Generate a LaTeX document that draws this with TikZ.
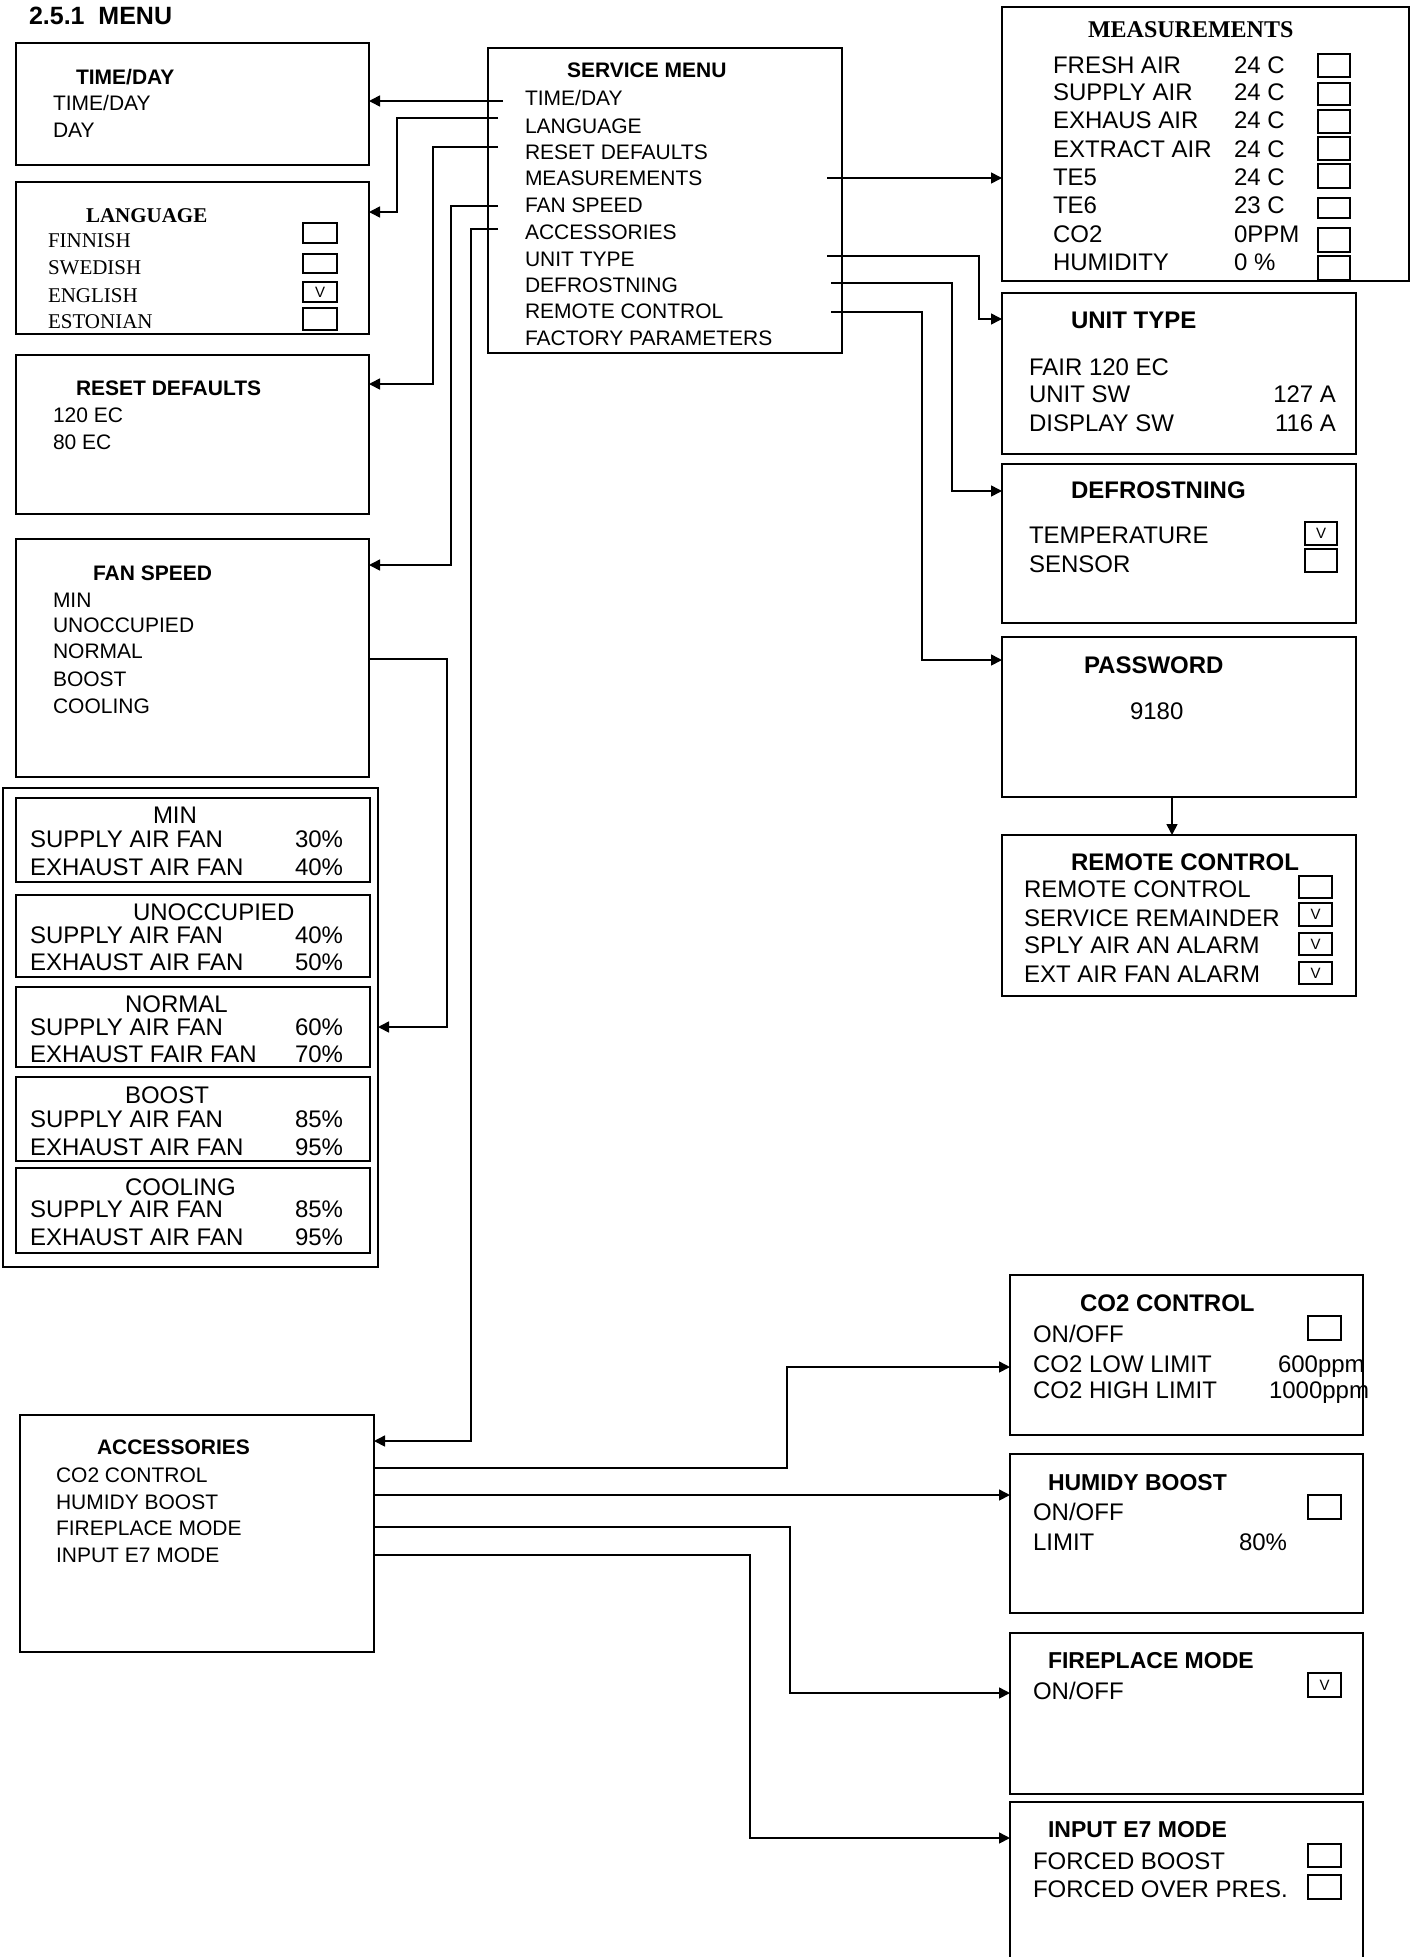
\documentclass[tikz,border=0pt]{standalone}
\usepackage{fontspec}
\setmainfont{Liberation Sans}
\newfontfamily\tnr{Liberation Serif}
\usetikzlibrary{arrows.meta}
\newcommand\Bx[5]{\node[box, minimum width=#4pt, minimum height=#5pt] (#1) at (#2,#3) {};}
\newcommand\Cb[6]{\node[cbox, minimum width=#4pt, minimum height=#5pt] (#1) at (#2,#3) {#6};}
\begin{document}
\begin{tikzpicture}[x=1pt,y=-1pt,
  box/.style={draw, line width=1.6pt, anchor=north west, inner sep=0pt, outer sep=0pt},
  cbox/.style={draw, line width=1.4pt, anchor=north west, inner sep=0pt, outer sep=0pt, font=\fontsize{15}{15}\selectfont},
  tx/.style={anchor=base west, inner sep=0pt, outer sep=0pt},
  txr/.style={anchor=base east, inner sep=0pt, outer sep=0pt},
  s21/.style={font=\fontsize{21}{21}\selectfont},
  b21/.style={font=\bfseries\fontsize{21}{21}\selectfont},
  s24/.style={font=\fontsize{24}{24}\selectfont},
  b24/.style={font=\bfseries\fontsize{24}{24}\selectfont},
  b23/.style={font=\bfseries\fontsize{23}{23}\selectfont},
  r21/.style={font=\tnr\fontsize{21}{21}\selectfont},
  rb21/.style={font=\tnr\bfseries\fontsize{21}{21}\selectfont},
  rb24/.style={font=\tnr\bfseries\fontsize{24}{24}\selectfont},
  ln/.style={line width=1.6pt},
  arr/.style={line width=1.6pt, -{Triangle[length=11pt,width=11pt]}}
]
\clip (0,0) rectangle (1416,1957);
\fill[white] (0,0) rectangle (1416,1957);

% title
\node[tx,font=\bfseries\fontsize{25}{25}\selectfont] (title) at (29,24) {2.5.1\ \ MENU};

% ---------- boxes ----------
\Bx{timeday}{16}{43}{353}{122}
\Bx{language}{16}{182}{353}{152}
\Bx{reset}{16}{355}{353}{159}
\Bx{fanspeed}{16}{539}{353}{238}
\Bx{fanouter}{3}{788}{375}{479}
\Bx{tmin}{16}{798}{354}{84}
\Bx{tunocc}{16}{895}{354}{82}
\Bx{tnormal}{16}{987}{354}{80}
\Bx{tboost}{16}{1077}{354}{84}
\Bx{tcool}{16}{1168}{354}{85}
\Bx{acc}{20}{1415}{354}{237}
\Bx{service}{488}{48}{354}{305}
\Bx{meas}{1002}{7}{407}{274}
\Bx{unittype}{1002}{293}{354}{161}
\Bx{defrost}{1002}{464}{354}{159}
\Bx{password}{1002}{637}{354}{160}
\Bx{remote}{1002}{835}{354}{161}
\Bx{co2}{1010}{1275}{353}{160}
\Bx{humid}{1010}{1454}{353}{159}
\Bx{fire}{1010}{1633}{353}{161}
\Bx{einput}{1010}{1802}{353}{180}

% ---------- TIME/DAY ----------
\node[tx,b21] (tdh) at (76,84) {TIME/DAY};
\node[tx,s21] (td1) at (53,110) {TIME/DAY};
\node[tx,s21] (td2) at (53,137) {DAY};

% ---------- LANGUAGE ----------
\node[tx,rb21] (lgh) at (86,222) {LANGUAGE};
\node[tx,r21] (lg1) at (48,247) {FINNISH};
\node[tx,r21] (lg2) at (48,274) {SWEDISH};
\node[tx,r21] (lg3) at (48,302) {ENGLISH};
\node[tx,r21] (lg4) at (48,328) {ESTONIAN};
\Cb{lc1}{303}{223}{34}{20}{}
\Cb{lc2}{303}{254}{34}{19}{}
\Cb{lc3}{303}{282}{34}{20}{V}
\Cb{lc4}{303}{308}{34}{22}{}

% ---------- RESET DEFAULTS ----------
\node[tx,b21] (rdh) at (76,395) {RESET DEFAULTS};
\node[tx,s21] (rd1) at (53,422) {120 EC};
\node[tx,s21] (rd2) at (53,449) {80 EC};

% ---------- FAN SPEED ----------
\node[tx,b21] (fsh) at (93,580) {FAN SPEED};
\node[tx,s21] (fs1) at (53,607) {MIN};
\node[tx,s21] (fs2) at (53,632) {UNOCCUPIED};
\node[tx,s21] (fs3) at (53,658) {NORMAL};
\node[tx,s21] (fs4) at (53,686) {BOOST};
\node[tx,s21] (fs5) at (53,713) {COOLING};

% ---------- fan speed tables ----------
\node[tx,s24] (mnh) at (153,823) {MIN};
\node[tx,s24] (mn1) at (30,847) {SUPPLY AIR FAN};
\node[tx,s24] (mn1v) at (295,847) {30\%};
\node[tx,s24] (mn2) at (30,875) {EXHAUST AIR FAN};
\node[tx,s24] (mn2v) at (295,875) {40\%};

\node[tx,s24] (unh) at (133,920) {UNOCCUPIED};
\node[tx,s24] (un1) at (30,943) {SUPPLY AIR FAN};
\node[tx,s24] (un1v) at (295,943) {40\%};
\node[tx,s24] (un2) at (30,970) {EXHAUST AIR FAN};
\node[tx,s24] (un2v) at (295,970) {50\%};

\node[tx,s24] (nmh) at (125,1012) {NORMAL};
\node[tx,s24] (nm1) at (30,1035) {SUPPLY AIR FAN};
\node[tx,s24] (nm1v) at (295,1035) {60\%};
\node[tx,s24] (nm2) at (30,1062) {EXHAUST FAIR FAN};
\node[tx,s24] (nm2v) at (295,1062) {70\%};

\node[tx,s24] (bsh) at (125,1103) {BOOST};
\node[tx,s24] (bs1) at (30,1127) {SUPPLY AIR FAN};
\node[tx,s24] (bs1v) at (295,1127) {85\%};
\node[tx,s24] (bs2) at (30,1155) {EXHAUST AIR FAN};
\node[tx,s24] (bs2v) at (295,1155) {95\%};

\node[tx,s24] (clh) at (125,1195) {COOLING};
\node[tx,s24] (cl1) at (30,1217) {SUPPLY AIR FAN};
\node[tx,s24] (cl1v) at (295,1217) {85\%};
\node[tx,s24] (cl2) at (30,1245) {EXHAUST AIR FAN};
\node[tx,s24] (cl2v) at (295,1245) {95\%};

% ---------- ACCESSORIES ----------
\node[tx,b21] (ach) at (97,1454) {ACCESSORIES};
\node[tx,s21] (ac1) at (56,1482) {CO2 CONTROL};
\node[tx,s21] (ac2) at (56,1509) {HUMIDY BOOST};
\node[tx,s21] (ac3) at (56,1535) {FIREPLACE MODE};
\node[tx,s21] (ac4) at (56,1562) {INPUT E7 MODE};

% ---------- SERVICE MENU ----------
\node[tx,b21] (smh) at (567,77) {SERVICE MENU};
\node[tx,s21] (sm1) at (525,105) {TIME/DAY};
\node[tx,s21] (sm2) at (525,133) {LANGUAGE};
\node[tx,s21] (sm3) at (525,159) {RESET DEFAULTS};
\node[tx,s21] (sm4) at (525,185) {MEASUREMENTS};
\node[tx,s21] (sm5) at (525,212) {FAN SPEED};
\node[tx,s21] (sm6) at (525,239) {ACCESSORIES};
\node[tx,s21] (sm7) at (525,266) {UNIT TYPE};
\node[tx,s21] (sm8) at (525,292) {DEFROSTNING};
\node[tx,s21] (sm9) at (525,318) {REMOTE CONTROL};
\node[tx,s21] (sm10) at (525,345) {FACTORY PARAMETERS};

% ---------- MEASUREMENTS ----------
\node[tx,rb24] (msh) at (1088,37) {MEASUREMENTS};
\node[tx,s24] (ms1) at (1053,73) {FRESH AIR};
\node[tx,s24] (ms2) at (1053,100) {SUPPLY AIR};
\node[tx,s24] (ms3) at (1053,128) {EXHAUS AIR};
\node[tx,s24] (ms4) at (1053,157) {EXTRACT AIR};
\node[tx,s24] (ms5) at (1053,185) {TE5};
\node[tx,s24] (ms6) at (1053,213) {TE6};
\node[tx,s24] (ms7) at (1053,242) {CO2};
\node[tx,s24] (ms8) at (1053,270) {HUMIDITY};
\node[tx,s24] (mv1) at (1234,73) {24 C};
\node[tx,s24] (mv2) at (1234,100) {24 C};
\node[tx,s24] (mv3) at (1234,128) {24 C};
\node[tx,s24] (mv4) at (1234,157) {24 C};
\node[tx,s24] (mv5) at (1234,185) {24 C};
\node[tx,s24] (mv6) at (1234,213) {23 C};
\node[tx,s24] (mv7) at (1234,242) {0PPM};
\node[tx,s24] (mv8) at (1234,270) {0 \%};
\Cb{mc1}{1318}{54}{32}{23}{}
\Cb{mc2}{1318}{83}{32}{22}{}
\Cb{mc3}{1318}{110}{32}{23}{}
\Cb{mc4}{1318}{137}{32}{23}{}
\Cb{mc5}{1318}{164}{32}{24}{}
\Cb{mc6}{1318}{198}{32}{20}{}
\Cb{mc7}{1318}{228}{32}{24}{}
\Cb{mc8}{1318}{256}{32}{24}{}

% ---------- UNIT TYPE ----------
\node[tx,b24] (uth) at (1071,328) {UNIT TYPE};
\node[tx,s24] (ut1) at (1029,375) {FAIR 120 EC};
\node[tx,s24] (ut2) at (1029,402) {UNIT SW};
\node[tx,s24] (ut3) at (1029,431) {DISPLAY SW};
\node[txr,s24] (ut2v) at (1336,402) {127 A};
\node[txr,s24] (ut3v) at (1336,431) {116 A};

% ---------- DEFROSTNING ----------
\node[tx,b24] (dfh) at (1071,498) {DEFROSTNING};
\node[tx,s24] (df1) at (1029,543) {TEMPERATURE};
\node[tx,s24] (df2) at (1029,572) {SENSOR};
\Cb{dc1}{1305}{522}{32}{23}{V}
\Cb{dc2}{1305}{549}{32}{23}{}

% ---------- PASSWORD ----------
\node[tx,b24] (pwh) at (1084,673) {PASSWORD};
\node[tx,s24] (pw1) at (1130,719) {9180};

% ---------- REMOTE CONTROL ----------
\node[tx,b24] (rch) at (1071,870) {REMOTE CONTROL};
\node[tx,s24] (rc1) at (1024,897) {REMOTE CONTROL};
\node[tx,s24] (rc2) at (1024,926) {SERVICE REMAINDER};
\node[tx,s24] (rc3) at (1024,953) {SPLY AIR AN ALARM};
\node[tx,s24] (rc4) at (1024,982) {EXT AIR FAN ALARM};
\Cb{rcc1}{1299}{876}{33}{22}{}
\Cb{rcc2}{1299}{903}{33}{23}{V}
\Cb{rcc3}{1299}{933}{33}{22}{V}
\Cb{rcc4}{1299}{962}{33}{22}{V}

% ---------- CO2 CONTROL ----------
\node[tx,b24] (coh) at (1080,1311) {CO2 CONTROL};
\node[tx,s24] (co1) at (1033,1342) {ON/OFF};
\node[tx,s24] (co2l) at (1033,1372) {CO2 LOW LIMIT};
\node[tx,s24] (co3) at (1033,1398) {CO2 HIGH LIMIT};
\node[tx,s24] (co2v) at (1278,1372) {600ppm};
\node[tx,s24] (co3v) at (1269,1398) {1000ppm};
\Cb{coc1}{1308}{1316}{33}{24}{}

% ---------- HUMIDY BOOST ----------
\node[tx,b23] (hbh) at (1048,1490) {HUMIDY BOOST};
\node[tx,s24] (hb1) at (1033,1520) {ON/OFF};
\node[tx,s24] (hb2) at (1033,1550) {LIMIT};
\node[tx,s24] (hb2v) at (1239,1550) {80\%};
\Cb{hbc1}{1308}{1495}{33}{24}{}

% ---------- FIREPLACE MODE ----------
\node[tx,b23] (fph) at (1048,1668) {FIREPLACE MODE};
\node[tx,s24] (fp1) at (1033,1699) {ON/OFF};
\Cb{fpc1}{1308}{1673}{33}{24}{V}

% ---------- INPUT E7 MODE ----------
\node[tx,b23] (e7h) at (1048,1837) {INPUT E7 MODE};
\node[tx,s24] (e71) at (1033,1869) {FORCED BOOST};
\node[tx,s24] (e72) at (1033,1897) {FORCED OVER PRES.};
\Cb{e7c1}{1308}{1844}{33}{23}{}
\Cb{e7c2}{1308}{1875}{33}{24}{}

% ---------- connector start points ----------
\coordinate (std) at (503,101);
\coordinate (slang) at (498,118);
\coordinate (sreset) at (498,147);
\coordinate (sfan) at (498,206);
\coordinate (sacc) at (498,229);
\coordinate (smeas) at (827,178);
\coordinate (sunit) at (827,256);
\coordinate (sdef) at (831,283);
\coordinate (srem) at (831,312);
\coordinate (sfout) at (369,659);
\coordinate (aco2) at (374,1468);
\coordinate (ahum) at (374,1495);
\coordinate (afire) at (374,1527);
\coordinate (ae7) at (374,1555);

% ---------- connectors ----------
\draw[arr] (std) -- (std -| timeday.east);
\draw[arr] (slang) -- (397,118) -- (397,212) -- (language.east |- 0,212);
\draw[arr] (sreset) -- (433,147) -- (433,384) -- (reset.east |- 0,384);
\draw[arr] (sfan) -- (451,206) -- (451,565) -- (fanspeed.east |- 0,565);
\draw[arr] (sacc) -- (471,229) -- (471,1441) -- (acc.east |- 0,1441);
\draw[arr] (sfout) -- (447,659) -- (447,1027) -- (fanouter.east |- 0,1027);
\draw[arr] (smeas) -- (smeas -| meas.west);
\draw[arr] (sunit) -- (979,256) -- (979,319) -- (unittype.west |- 0,319);
\draw[arr] (sdef) -- (952,283) -- (952,491) -- (defrost.west |- 0,491);
\draw[arr] (srem) -- (922,312) -- (922,660) -- (password.west |- 0,660);
\draw[arr] (password.south -| 1172,0) -- (remote.north -| 1172,0);
\draw[arr] (aco2) -- (787,1468) -- (787,1367) -- (co2.west |- 0,1367);
\draw[arr] (ahum) -- (ahum -| humid.west);
\draw[arr] (afire) -- (790,1527) -- (790,1693) -- (fire.west |- 0,1693);
\draw[arr] (ae7) -- (750,1555) -- (750,1838) -- (einput.west |- 0,1838);
\end{tikzpicture}
\end{document}
